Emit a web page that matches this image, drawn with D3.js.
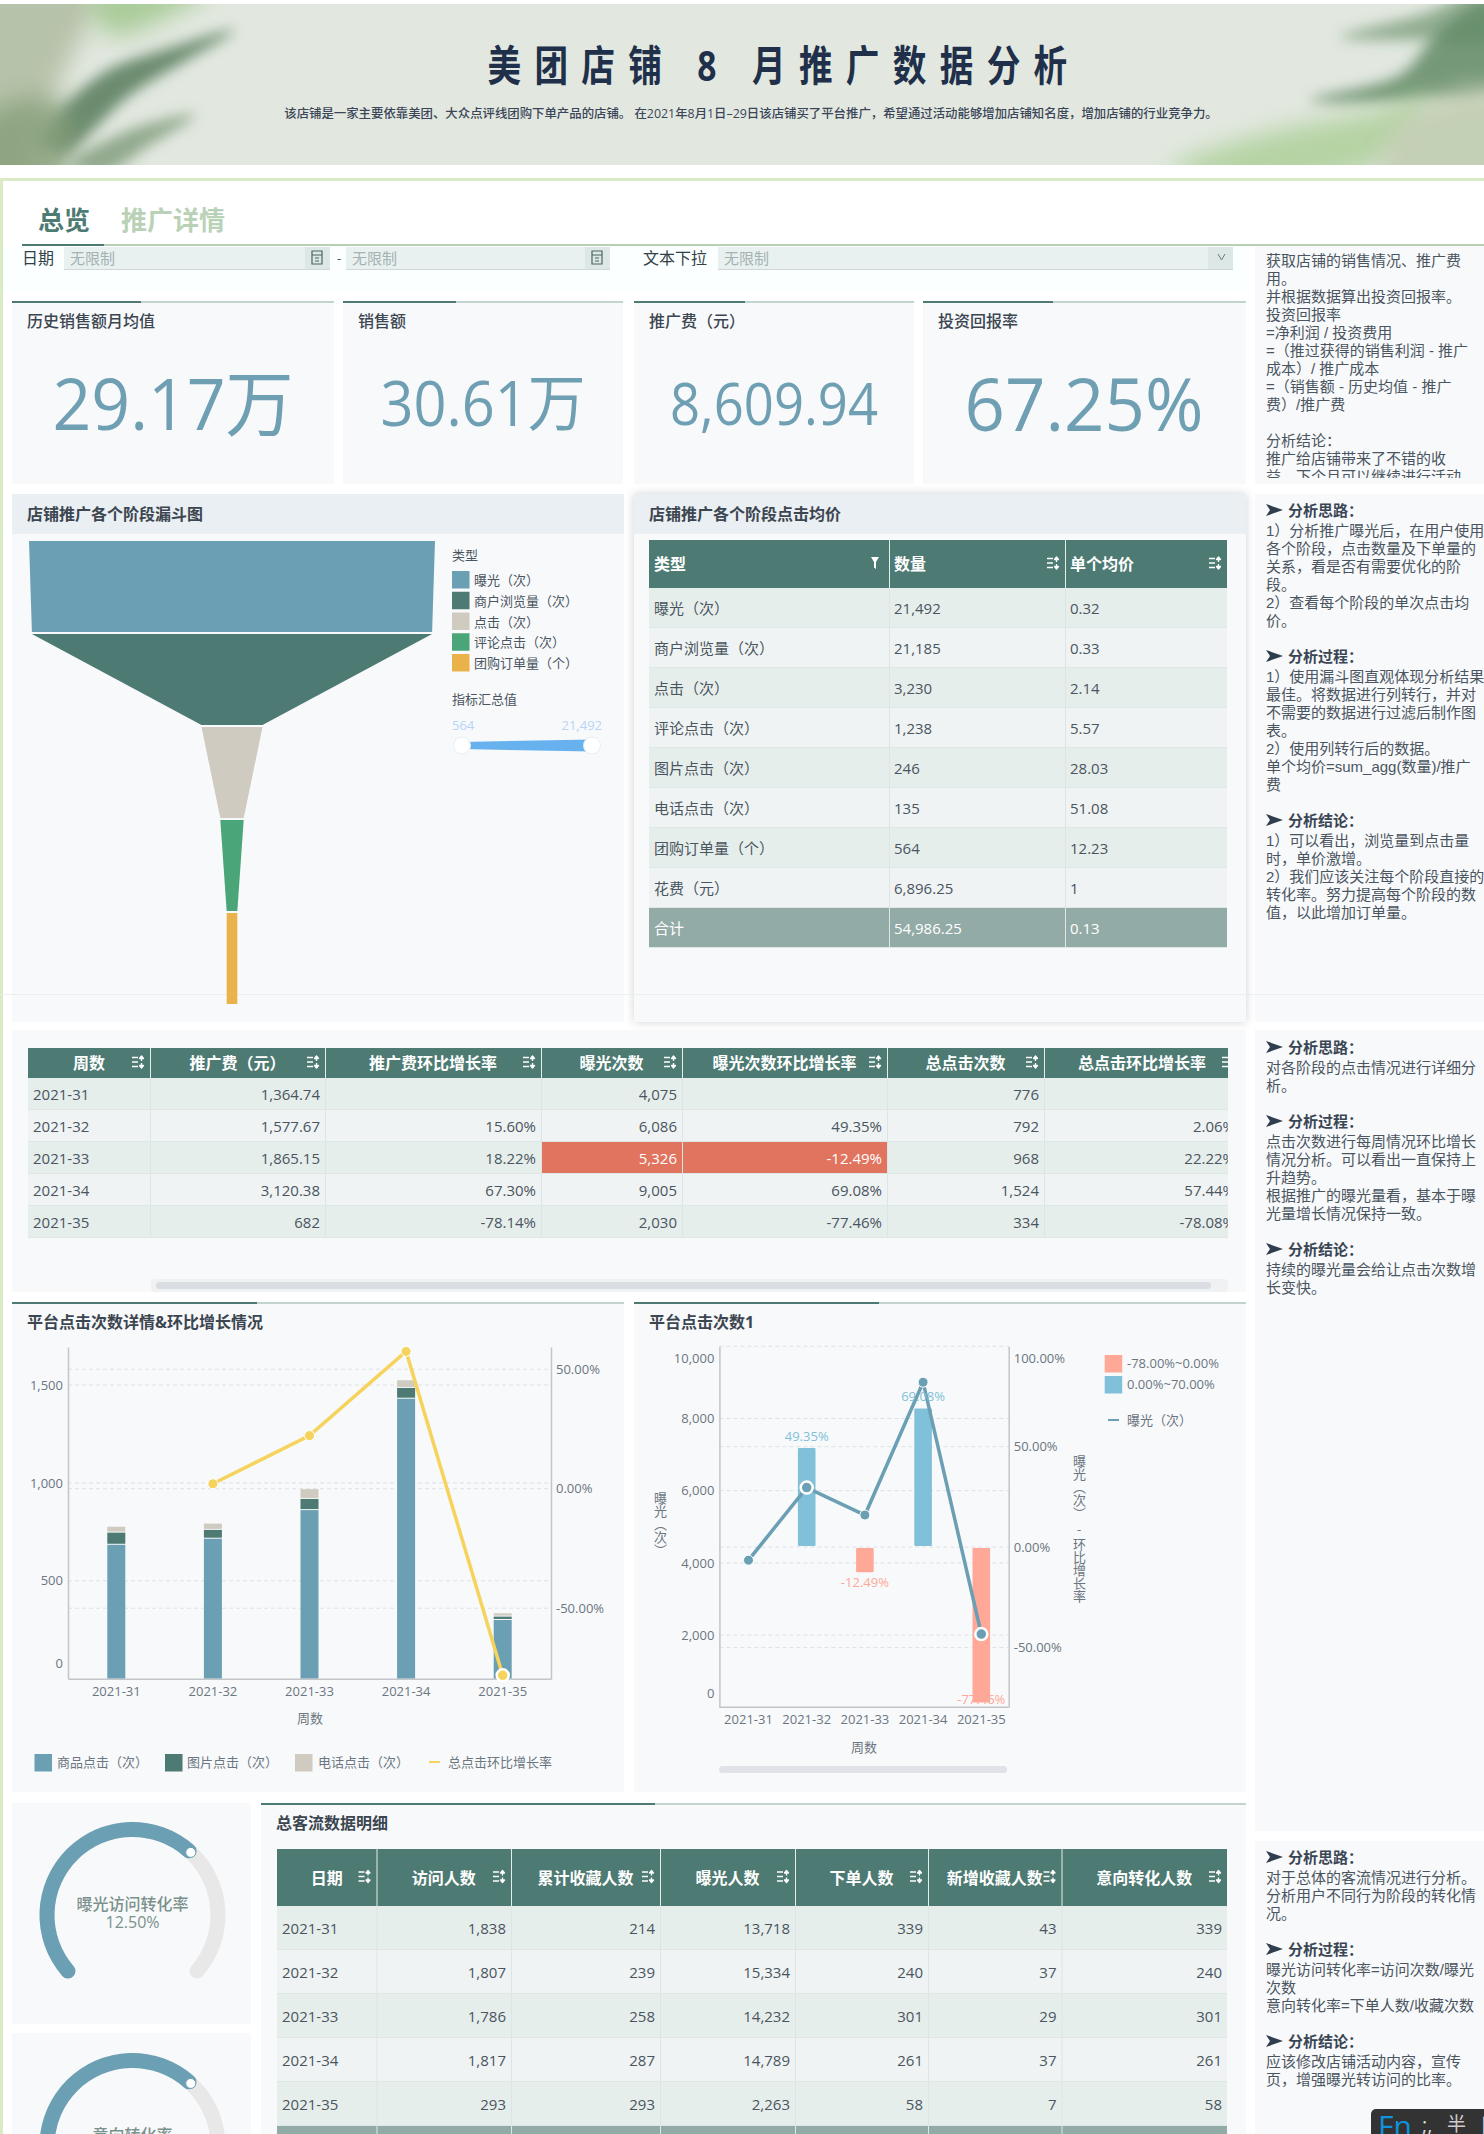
<!DOCTYPE html>
<html>
<head>
<meta charset="utf-8">
<script src="https://cdn.jsdelivr.net/npm/d3@7"></script>
<style>
  html, body { margin: 0; padding: 0; background: #fff; overflow: hidden; }
  svg { display: block; }
  text { font-family: "Open Sans", "Noto Sans CJK SC", sans-serif; }
</style>
</head>
<body>
<script>
// funnel
const funnelTypes = ["曝光（次）", "商户浏览量（次）", "点击（次）", "评论点击（次）", "团购订单量（个）"];
const funnelValues = [21492, 21185, 3230, 1238, 564];
const funnelColors = ["#6b9fb3", "#4d7a72", "#cfcbc0", "#4aa678", "#e9b24a"];

// kpi cards
const kpiNames = ["历史销售额月均值", "销售额", "推广费（元）", "投资回报率"];
const kpiValues = ["29.17万", "30.61万", "8,609.94", "67.25%"];

// stage price table
const priceHeads = ["类型", "数量", "单个均价"];
const priceTypes = ["曝光（次）", "商户浏览量（次）", "点击（次）", "评论点击（次）", "图片点击（次）", "电话点击（次）", "团购订单量（个）", "花费（元）"];
const priceCounts = [21492, 21185, 3230, 1238, 246, 135, 564, 6896.25];
const priceAvg = [0.32, 0.33, 2.14, 5.57, 28.03, 51.08, 12.23, 1];
const priceTotal = ["合计", 54986.25, 0.13];

// weekly table
const weeks = ["2021-31", "2021-32", "2021-33", "2021-34", "2021-35"];
const weekHeads = ["周数", "推广费（元）", "推广费环比增长率", "曝光次数", "曝光次数环比增长率", "总点击次数", "总点击环比增长率"];
const fee = [1364.74, 1577.67, 1865.15, 3120.38, 682];
const feeRate = [null, 15.60, 18.22, 67.30, -78.14];
const exposure = [4075, 6086, 5326, 9005, 2030];
const exposureRate = [null, 49.35, -12.49, 69.08, -77.46];
const clicks = [776, 792, 968, 1524, 334];
const clickRate = [null, 2.06, 22.22, 57.44, -78.08];

// stacked click bars
const clickKeys = ["商品点击（次）", "图片点击（次）", "电话点击（次）"];
const goodsClicks = [684, 715, 861, 1430, 300];
const imageClicks = [62, 45, 57, 55, 17];
const phoneClicks = [30, 32, 50, 39, 17];
const rateName = "总点击环比增长率";

// customer flow table
const flowHeads = ["日期", "访问人数", "累计收藏人数", "曝光人数", "下单人数", "新增收藏人数", "意向转化人数"];
const visitors = [1838, 1807, 1786, 1817, 293];
const favTotal = [214, 239, 258, 287, 293];
const exposed = [13718, 15334, 14232, 14789, 2263];
const orders = [339, 240, 301, 261, 58];
const favNew = [43, 37, 29, 37, 7];
const intent = [339, 240, 301, 261, 58];

// gauges
const gaugeNames = ["曝光访问转化率", "意向转化率"];
const gaugeLabels = ["12.50%", ""];
const gaugeValues = [0.125, 0.125];

// side notes
const notes1 = ["获取店铺的销售情况、推广费", "用。", "并根据数据算出投资回报率。", "投资回报率", "=净利润 / 投资费用", "=（推过获得的销售利润 - 推广", "成本）/ 推广成本", "=（销售额 - 历史均值 - 推广", "费）/推广费", "", "分析结论：", "推广给店铺带来了不错的收", "益，下个月可以继续进行活动"];
const notes2 = [
  ["分析思路：", ["1）分析推广曝光后，在用户使用", "各个阶段，点击数量及下单量的", "关系，看是否有需要优化的阶", "段。", "2）查看每个阶段的单次点击均", "价。"]],
  ["分析过程：", ["1）使用漏斗图直观体现分析结果", "最佳。将数据进行列转行，并对", "不需要的数据进行过滤后制作图", "表。", "2）使用列转行后的数据。", "单个均价=sum_agg(数量)/推广", "费"]],
  ["分析结论：", ["1）可以看出，浏览量到点击量", "时，单价激增。", "2）我们应该关注每个阶段直接的", "转化率。努力提高每个阶段的数", "值，以此增加订单量。"]]
];
const notes3 = [
  ["分析思路：", ["对各阶段的点击情况进行详细分", "析。"]],
  ["分析过程：", ["点击次数进行每周情况环比增长", "情况分析。可以看出一直保持上", "升趋势。", "根据推广的曝光量看，基本于曝", "光量增长情况保持一致。"]],
  ["分析结论：", ["持续的曝光量会给让点击次数增", "长变快。"]]
];
const notes4 = [
  ["分析思路：", ["对于总体的客流情况进行分析。", "分析用户不同行为阶段的转化情", "况。"]],
  ["分析过程：", ["曝光访问转化率=访问次数/曝光", "次数", "意向转化率=下单人数/收藏次数"]],
  ["分析结论：", ["应该修改店铺活动内容，宣传", "页，增强曝光转访问的比率。"]]
];

// plain hyphen for negatives, like the original
d3.formatDefaultLocale({ decimal: ".", thousands: ",", grouping: [3], currency: ["", ""], minus: "-" });

const panelBg = "#f8f9fb", dark = "#4d7a72", lightBar = "#c3d3ce", textCol = "#4a5560", axisCol = "#6b7680";
const blue = "#6b9fb3", yellow = "#f5d35c";
const sansCn = '"Liberation Sans", "Noto Sans CJK SC", sans-serif';

const svg = d3.select("body").append("svg").attr("width", 1484).attr("height", 2134);
const defs = svg.append("defs");
[12, 7].forEach(function (b) {
  defs.append("filter").attr("id", "blur" + b).attr("x", "-30%").attr("y", "-30%").attr("width", "160%").attr("height", "160%")
    .append("feGaussianBlur").attr("stdDeviation", b);
});
const shadow = defs.append("filter").attr("id", "shadow").attr("x", "-5%").attr("y", "-5%").attr("width", "110%").attr("height", "110%");
shadow.append("feDropShadow").attr("dx", 0).attr("dy", 0).attr("stdDeviation", 5).attr("flood-color", "#000").attr("flood-opacity", 0.18);

function clip(id, x, y, w, h) {
  defs.append("clipPath").attr("id", id).append("rect").attr("x", x).attr("y", y).attr("width", w).attr("height", h);
  return "url(#" + id + ")";
}
function rect(g, x, y, w, h, fill) {
  return g.append("rect").attr("x", x).attr("y", y).attr("width", w).attr("height", h).attr("fill", fill);
}
function label(g, x, y, s, size, fill, anchor, weight) {
  return g.append("text").attr("x", x).attr("y", y).attr("dominant-baseline", "central")
    .attr("text-anchor", anchor || "start").attr("font-size", size).attr("font-weight", weight || 400)
    .attr("fill", fill).text(s);
}

// banner
const banner = svg.append("g").attr("clip-path", clip("bannerClip", 0, 4, 1484, 161));
rect(banner, 0, 4, 1484, 161, "#e2e8df");
const leaf = d3.line().curve(d3.curveCatmullRomClosed);
function leafShape(pts, fill, blur, op) {
  banner.append("path").attr("d", leaf(pts)).attr("fill", fill).attr("opacity", op).attr("filter", "url(#blur" + blur + ")");
}
leafShape([[-40, -10], [95, -10], [70, 60], [40, 120], [10, 190], [-40, 190]], "#b2bea4", 12, 0.9);
leafShape([[90, -10], [210, -10], [170, 15], [110, 35]], "#97c282", 12, 0.75);
leafShape([[40, 140], [100, 75], [170, 48], [235, 30], [190, 58], [130, 95], [60, 155]], "#567c5c", 7, 0.85);
leafShape([[70, 165], [130, 130], [195, 115], [150, 145], [100, 175]], "#6f8f6c", 7, 0.7);
leafShape([[-20, 120], [60, 100], [60, 190], [-20, 190]], "#88a07a", 12, 0.85);
leafShape([[1340, 37], [1420, 15], [1490, -10], [1490, 40], [1420, 40]], "#7e9f7f", 7, 0.8);
leafShape([[1310, 100], [1400, 75], [1440, 30], [1495, 0], [1495, 90], [1420, 100]], "#648b67", 7, 0.85);
leafShape([[1170, 170], [1260, 135], [1380, 110], [1430, 95], [1400, 150], [1300, 185]], "#a6cc90", 12, 0.75);
leafShape([[1400, 120], [1500, 90], [1500, 190], [1380, 190]], "#c3cfb3", 12, 0.95);
banner.append("text").attr("transform", "translate(784,64) scale(0.8,1)")
  .attr("text-anchor", "middle").attr("dominant-baseline", "central")
  .attr("font-size", 42).attr("font-weight", 700).attr("fill", "#21304a").attr("letter-spacing", 16.7)
  .text("美团店铺 8 月推广数据分析");
label(banner, 751, 113, "该店铺是一家主要依靠美团、大众点评线团购下单产品的店铺。 在2021年8月1日–29日该店铺买了平台推广，希望通过活动能够增加店铺知名度，增加店铺的行业竞争力。", 12.4, "#3a4558", "middle", 500);

// page frame, tabs, filters
rect(svg, 0, 178, 1484, 3, "#d8ebc4");
rect(svg, 0, 178, 3, 1956, "#d8ebc4");
label(svg, 38, 220, "总览", 26, dark, "start", 700);
label(svg, 121, 220, "推广详情", 26, "#b9d2b7", "start", 700);
rect(svg, 22, 244, 1462, 2, "#b6cfb5");
rect(svg, 22, 244, 82, 2, dark);
rect(svg, 4, 246, 1242, 46, "#fbffff");

label(svg, 22, 258, "日期", 16, "#333f46");
label(svg, 643, 258, "文本下拉", 16, "#333f46");
label(svg, 337, 258, "-", 13, textCol);
[[64, 266], [346, 264], [718, 515]].forEach(function (f, i) {
  rect(svg, f[0], 247, f[1], 23, "#e9f1f0");
  rect(svg, f[0], 269, f[1], 1, "#cdd8d6");
  rect(svg, f[0] + f[1] - 25, 247, 25, 22, "#dde8e6");
  label(svg, f[0] + 6, 258, "无限制", 15, "#a3b2b2");
  if (i < 2) {
    svg.append("path").attr("d", "M" + (f[0] + f[1] - 18) + " 251h10v13h-10zM" + (f[0] + f[1] - 18) + " 255h10M" + (f[0] + f[1] - 15) + " 258h4M" + (f[0] + f[1] - 15) + " 261h4")
      .attr("fill", "none").attr("stroke", "#4b6460").attr("stroke-width", 1.2);
  } else {
    svg.append("path").attr("d", "M" + (f[0] + f[1] - 15) + " 254l3.5 6 3.5-6").attr("fill", "none").attr("stroke", "#6b7d7a");
  }
});

// kpi cards: x, width, dark bar, font size, centre, text width
const kpiBoxes = [[12, 322, 129, 72, 173, 241], [343, 280, 113, 62, 483, 205], [634, 280, 111, 58, 774, 208], [923, 323, 130, 74, 1084, 239]];
kpiNames.forEach(function (name, i) {
  const b = kpiBoxes[i];
  rect(svg, b[0], 303, b[1], 181, panelBg);
  rect(svg, b[0], 301, b[1], 2, lightBar);
  rect(svg, b[0], 301, b[2], 2, dark);
  label(svg, b[0] + 15, 321, name, 16, "#3c4650", "start", 500);
  label(svg, b[4], 402, kpiValues[i], b[3], "#6f9fb2", "middle")
    .attr("textLength", b[5]).attr("lengthAdjust", "spacingAndGlyphs");
});

// side panels
[[246, 238], [494, 528], [1030, 801], [1841, 293]].forEach(function (p) {
  rect(svg, 1255, p[0], 229, p[1], panelBg);
});
const noteClip = svg.append("g").attr("clip-path", clip("noteClip", 1255, 246, 229, 232));
notes1.forEach(function (s, i) {
  noteClip.append("text").attr("x", 1266).attr("y", 260 + i * 18).attr("dominant-baseline", "central")
    .attr("font-size", 15).attr("fill", textCol).style("font-family", sansCn).text(s);
});
function drawNotes(groups, y0) {
  let y = y0;
  groups.forEach(function (g) {
    svg.append("path").attr("transform", "translate(1266," + y + ")").attr("d", "M0 -6L17 0L0 6L4 0Z").attr("fill", "#2f3d4e");
    svg.append("text").attr("x", 1288).attr("y", y).attr("dominant-baseline", "central").attr("font-size", 15)
      .attr("font-weight", 700).attr("fill", "#3a4654").style("font-family", sansCn).text(g[0]);
    y += 20;
    g[1].forEach(function (s, i) {
      svg.append("text").attr("x", 1266).attr("y", y + i * 18).attr("dominant-baseline", "central").attr("font-size", 15)
        .attr("fill", textCol).style("font-family", sansCn).text(s);
    });
    y += (g[1].length - 1) * 18 + 36;
  });
}
drawNotes(notes2, 510);
drawNotes(notes3, 1047);
drawNotes(notes4, 1857);

// funnel panel
rect(svg, 12, 494, 612, 528, panelBg);
rect(svg, 12, 494, 612, 40, "#eaeff3");
label(svg, 27, 514, "店铺推广各个阶段漏斗图", 16, "#3c4650", "start", 700);

const funnelY = d3.scaleBand().domain(funnelTypes).range([541, 1004]).paddingInner(0.022);
const funnelW = d3.scaleLinear().domain([0, funnelValues[0]]).range([0, 406]);
const funnelCx = 232;
const funnelLine = d3.line();
const funnelMarks = svg.append("g");
funnelMarks.selectAll("path").data(funnelTypes).join("path")
  .attr("fill", function (d, i) { return funnelColors[i]; })
  .attr("d", function (d, i) {
    const top = funnelW(funnelValues[i]) / 2;
    const next = funnelW(funnelValues[Math.min(i + 1, funnelValues.length - 1)]) / 2;
    const y0 = funnelY(d), y1 = y0 + funnelY.bandwidth();
    return funnelLine([[funnelCx - top, y0], [funnelCx + top, y0], [funnelCx + next, y1], [funnelCx - next, y1]]) + "Z";
  });

label(svg, 452, 555, "类型", 13, textCol);
const funnelLegendY = d3.scalePoint().domain(funnelTypes).range([580, 663]);
funnelTypes.forEach(function (t, i) {
  rect(svg, 452, funnelLegendY(t) - 9, 17.5, 17.5, funnelColors[i]);
  label(svg, 474, funnelLegendY(t), t, 13, textCol);
});
label(svg, 452, 699, "指标汇总值", 13, textCol);
label(svg, 452, 725, "564", 13, "#b7d4f7");
label(svg, 602, 725, "21,492", 13, "#b7d4f7", "end");
const sliderX = d3.scaleLinear().domain([564, 21492]).range([462, 592]);
const sliderH = d3.scaleLinear().domain([564, 21492]).range([3.5, 6]);
svg.append("path").attr("fill", "#66b1ee")
  .attr("d", d3.area().x(function (d) { return sliderX(d); })
    .y0(function (d) { return 745.5 + sliderH(d); }).y1(function (d) { return 745.5 - sliderH(d); })([564, 21492]));
svg.selectAll("circle.handle").data([564, 21492]).join("circle").attr("class", "handle")
  .attr("cx", function (d) { return sliderX(d); }).attr("cy", 745.5).attr("r", 8.5)
  .attr("fill", "#fff").attr("stroke", "#e4eef7").attr("stroke-width", 1);

// tables
function sortIcon(g, cx, cy) {
  g.append("path").attr("transform", "translate(" + (cx - 6) + "," + (cy - 6) + ")")
    .attr("d", "M0 1.5h6M0 6h6M0 10.5h6M9.5 0v5M9.5 7v5M7.5 2.5l2-2.5 2 2.5zM7.5 9.5l2 2.5 2-2.5z")
    .attr("fill", "#fff").attr("stroke", "#fff").attr("stroke-width", 1.3).attr("stroke-linejoin", "round");
}
function drawTable(o) {
  const g = svg.append("g");
  if (o.clip) g.attr("clip-path", o.clip);
  const left = o.edges[0], right = o.edges[o.edges.length - 1];
  const nRows = o.rows.length;
  const rowY = d3.scaleLinear().domain([0, nRows]).range([o.headY + o.headH, o.headY + o.headH + nRows * o.rowH]);
  rect(g, left, o.headY, right - left, o.headH, dark);
  o.heads.forEach(function (h, c) {
    const x0 = o.edges[c], x1 = o.edges[c + 1], cy = o.headY + o.headH / 2;
    if (o.headAlign === "left") label(g, x0 + 5, cy, h, 16, "#fff", "start", 700);
    else label(g, (x0 + x1) / 2, cy, h, 16, "#fff", "middle", 700);
    rect(g, x1 - 19, cy - 9, 18, 18, dark);
    if (o.filterFirst && c === 0) {
      g.append("path").attr("d", "M" + (x1 - 18) + " " + (cy - 7) + "h8l-3 5v7l-2-1.5v-5.5z").attr("fill", "#fff");
    } else sortIcon(g, x1 - 12, cy - 1);
    if (c > 0) rect(g, x0, o.headY, 1, o.headH, "#e6eeec");
  });
  o.rows.forEach(function (row, r) {
    const y = rowY(r);
    const isTotal = row.total;
    rect(g, left, y, right - left, o.rowH, isTotal ? "#93aba6" : (r % 2 ? "#eff3f3" : "#e6eeec"));
    rect(g, left, y + o.rowH - 1, right - left, 1, "#dfe7e6");
    row.cells.forEach(function (s, c) {
      const x0 = o.edges[c], x1 = o.edges[c + 1];
      const hot = o.hot && o.hot(r, c);
      if (hot) rect(g, x0, y, x1 - x0, o.rowH - 1, "#e0745e");
      if (c > 0) rect(g, x0, y, 1, o.rowH, isTotal ? "#dfe7e6" : "#dde5e4");
      const fill = (isTotal || hot) ? "#fff" : textCol;
      if (o.cellAlign === "left" || c === 0) label(g, x0 + 5, y + o.rowH / 2, s, 15, fill);
      else label(g, x1 - 5, y + o.rowH / 2, s, 15, fill, "end");
    });
  });
  return g;
}
const num = d3.format(",");
const pct = function (v) { return v === null ? "" : d3.format(".2f")(v) + "%"; };

// price panel
rect(svg, 634, 494, 612, 528, panelBg).attr("filter", "url(#shadow)");
rect(svg, 634, 494, 612, 40, "#eaeff3");
label(svg, 649, 514, "店铺推广各个阶段点击均价", 16, "#3c4650", "start", 700);
rect(svg, 0, 994, 1484, 1, "#e9ecee").attr("opacity", 0.8);
funnelMarks.raise();
drawTable({
  edges: [649, 889, 1065, 1227], headY: 540, headH: 48, rowH: 40, heads: priceHeads,
  headAlign: "left", cellAlign: "left", filterFirst: true,
  rows: priceTypes.map(function (t, i) {
    return { cells: [t, num(priceCounts[i]), String(priceAvg[i])] };
  }).concat([{ total: true, cells: [priceTotal[0], num(priceTotal[1]), String(priceTotal[2])] }])
});

// weekly table
rect(svg, 12, 1030, 1234, 262, panelBg);
drawTable({
  edges: [28, 150, 325, 541, 682, 887, 1044, 1240], headY: 1048, headH: 30, rowH: 32, heads: weekHeads,
  clip: clip("weekClip", 28, 1040, 1200, 210),
  hot: function (r, c) { return r === 2 && (c === 3 || c === 4); },
  rows: weeks.map(function (w, i) {
    return { cells: [w, num(fee[i]), pct(feeRate[i]), num(exposure[i]), pct(exposureRate[i]), num(clicks[i]), pct(clickRate[i])] };
  })
});
rect(svg, 151, 1279, 1077, 13, "#eff1f3").attr("rx", 4);
rect(svg, 156, 1282, 1055, 7, "#dadde2").attr("rx", 3.5);

// shared chart pieces
function panelHead(x, w, darkW, title, y) {
  rect(svg, x, y + 2, w, 488, panelBg);
  rect(svg, x, y, w, 2, lightBar);
  rect(svg, x, y, darkW, 2, dark);
  label(svg, x + 15, y + 20, title, 16, "#3c4650", "start", 700);
}
function gridLines(scale, ticks, x0, x1) {
  svg.append("g").selectAll("line").data(ticks).join("line")
    .attr("x1", x0).attr("x2", x1)
    .attr("y1", function (d) { return scale(d); }).attr("y2", function (d) { return scale(d); })
    .attr("stroke", "#dfe1e4").attr("stroke-dasharray", "4 3");
}
function styleAxis(g, nudge) {
  g.selectAll(".domain").attr("stroke", "#c2c6ca").attr("stroke-width", 1.5);
  g.selectAll(".tick line").remove();
  g.selectAll("text").attr("fill", axisCol).attr("font-size", 13);
  if (nudge) g.selectAll(".tick text").attr("dy", function (d) { return (0.32 * 13 + (nudge[d] || 0)) + "px"; });
}

// clicks detail chart
panelHead(12, 612, 245, "平台点击次数详情&环比增长情况", 1302);
const x1 = d3.scaleBand().domain(weeks).range([68, 551]);
const yClicks = d3.scaleLinear().domain([0, 1694]).range([1678.7, 1347]);
const yRate = d3.scaleLinear().domain([-79.5, 59.3]).range([1678.7, 1347]);
gridLines(yClicks, [500, 1000, 1500], 68, 551);
gridLines(yRate, [-50, 0, 50], 68, 551);
const stackRows = weeks.map(function (w, i) {
  const row = { week: w };
  row[clickKeys[0]] = goodsClicks[i];
  row[clickKeys[1]] = imageClicks[i];
  row[clickKeys[2]] = phoneClicks[i];
  return row;
});
const stacks = d3.stack().keys(clickKeys)(stackRows);
const stackColors = d3.scaleOrdinal().domain(clickKeys).range(["#6b9fb3", "#4d7a72", "#cfcbc0"]);
svg.append("g").selectAll("g").data(stacks).join("g")
  .attr("fill", function (d) { return stackColors(d.key); })
  .selectAll("rect").data(function (d) { return d; }).join("rect")
  .attr("x", function (d) { return x1(d.data.week) + x1.bandwidth() / 2 - 9; })
  .attr("width", 18)
  .attr("y", function (d) { return yClicks(d[1]); })
  .attr("height", function (d) { return yClicks(d[0]) - yClicks(d[1]) - (d[0] > 0 ? 1 : 0); });

const axL1 = svg.append("g").attr("transform", "translate(68,0)")
  .call(d3.axisLeft(yClicks).tickValues([0, 500, 1000, 1500]).tickFormat(d3.format(",")).tickSize(0).tickPadding(5));
styleAxis(axL1, { 0: -15 });
const axR1 = svg.append("g").attr("transform", "translate(551,0)")
  .call(d3.axisRight(yRate).tickValues([-50, 0, 50]).tickFormat(function (d) { return d3.format(".2f")(d) + "%"; }).tickSize(0).tickPadding(5));
styleAxis(axR1);
const axB1 = svg.append("g").attr("transform", "translate(0,1678.7)").call(d3.axisBottom(x1).tickSize(0).tickPadding(8));
styleAxis(axB1);
label(svg, 310, 1718, "周数", 13, axisCol, "middle");

const rateLine = d3.line().defined(function (d) { return d.v !== null; })
  .x(function (d) { return x1(d.w) + x1.bandwidth() / 2; }).y(function (d) { return yRate(d.v); });
const ratePts = weeks.map(function (w, i) { return { w: w, v: clickRate[i] }; });
svg.append("path").attr("d", rateLine(ratePts)).attr("fill", "none").attr("stroke", yellow).attr("stroke-width", 3.5);
svg.append("g").selectAll("circle").data(ratePts.filter(function (d) { return d.v !== null; })).join("circle")
  .attr("cx", function (d) { return x1(d.w) + x1.bandwidth() / 2; }).attr("cy", function (d) { return yRate(d.v); })
  .attr("r", function (d, i) { return i === 3 ? 6 : 5; }).attr("fill", yellow).attr("stroke", "#fff")
  .attr("stroke-width", function (d, i) { return i === 3 ? 2.5 : 1; });

const legend1X = [[34.5, 57], [165, 187], [295, 318]];
clickKeys.forEach(function (k, i) {
  rect(svg, legend1X[i][0], 1754, 17.5, 17.5, stackColors(k));
  label(svg, legend1X[i][1], 1762, k, 13, axisCol);
});
rect(svg, 429, 1761, 11, 2, yellow);
label(svg, 448, 1762, rateName, 13, axisCol);

// exposure chart
panelHead(634, 612, 245, "平台点击次数1", 1302);
const x2 = d3.scaleBand().domain(weeks).range([719.4, 1010.4]);
const yExpo = d3.scaleLinear().domain([0, 10000]).range([1707.3, 1346.3]);
const yRate2 = d3.scaleLinear().domain([-79.8, 100]).range([1707.3, 1346.3]);
gridLines(yExpo, [2000, 4000, 6000, 8000, 10000], 719.4, 1008.7);
gridLines(yRate2, [-50, 0, 50], 719.4, 1008.7);
const rateColor = d3.scaleThreshold().domain([0]).range(["#ffa898", "#80c0d8"]);
const barData = weeks.map(function (w, i) { return { w: w, v: exposureRate[i] }; }).filter(function (d) { return d.v !== null; });
const cx2 = function (w) { return x2(w) + x2.bandwidth() / 2; };
svg.append("g").selectAll("rect").data(barData).join("rect")
  .attr("x", function (d) { return cx2(d.w) - 8.8; }).attr("width", 17.6).attr("rx", 1)
  .attr("y", function (d) { return d.v > 0 ? yRate2(d.v) : yRate2(0) + 1; })
  .attr("height", function (d) { return Math.abs(yRate2(d.v) - yRate2(0)) - 1; })
  .attr("fill", function (d) { return rateColor(d.v); });

const axL2 = svg.append("g").attr("transform", "translate(719.4,0)")
  .call(d3.axisLeft(yExpo).tickValues([0, 2000, 4000, 6000, 8000, 10000]).tickFormat(d3.format(",")).tickSize(0).tickPadding(5));
styleAxis(axL2, { 0: -14, 10000: 12 });
const axR2 = svg.append("g").attr("transform", "translate(1008.7,0)")
  .call(d3.axisRight(yRate2).tickValues([-50, 0, 50, 100]).tickFormat(function (d) { return d3.format(".2f")(d) + "%"; }).tickSize(0).tickPadding(5));
styleAxis(axR2, { 100: 12 });
const axB2 = svg.append("g").attr("transform", "translate(0,1707.3)").call(d3.axisBottom(x2).tickSize(0).tickPadding(7));
axB2.select(".domain").attr("d", "M719.4 0H1008.7");
styleAxis(axB2);
label(svg, 864, 1747, "周数", 13, axisCol, "middle");

const expoLine = d3.line().x(function (d) { return cx2(d.w); }).y(function (d) { return yExpo(d.v); });
const expoPts = weeks.map(function (w, i) { return { w: w, v: exposure[i] }; });
svg.append("path").attr("d", expoLine(expoPts)).attr("fill", "none").attr("stroke", blue).attr("stroke-width", 3.5);
svg.append("g").selectAll("circle").data(expoPts).join("circle")
  .attr("cx", function (d) { return cx2(d.w); }).attr("cy", function (d) { return yExpo(d.v); })
  .attr("r", function (d, i) { return (i === 1 || i === 4) ? 6 : 5; }).attr("fill", blue).attr("stroke", "#fff")
  .attr("stroke-width", function (d, i) { return (i === 1 || i === 4) ? 2.5 : 1; });
svg.append("g").selectAll("text").data(barData).join("text")
  .attr("x", function (d) { return cx2(d.w); })
  .attr("y", function (d) { return d.v > 0 ? yRate2(d.v) - 12 : Math.min(yRate2(d.v) + 10, 1699); })
  .attr("text-anchor", "middle").attr("dominant-baseline", "central").attr("font-size", 13).attr("font-weight", 500)
  .attr("fill", function (d) { return rateColor(d.v); }).text(function (d) { return pct(d.v); });

rect(svg, 1104.7, 1355, 17.5, 17.5, rateColor(-1));
rect(svg, 1104.7, 1376, 17.5, 17.5, rateColor(1));
label(svg, 1127, 1363, "-78.00%~0.00%", 13, axisCol);
label(svg, 1127, 1384, "0.00%~70.00%", 13, axisCol);
rect(svg, 1108, 1419, 11, 2, blue);
label(svg, 1127, 1420, funnelTypes[0], 13, axisCol);
function vertical(x, y, s) {
  svg.append("text").attr("x", x).attr("y", y).attr("font-size", 13).attr("fill", axisCol)
    .style("writing-mode", "vertical-rl").style("text-orientation", "upright").text(s);
}
vertical(660, 1492, funnelTypes[0]);
vertical(1079, 1455, funnelTypes[0] + "-环比增长率");
rect(svg, 719, 1766, 288, 7, "#dfe2e6").attr("rx", 3.5);

// gauges
const gaugeAngle = d3.scaleLinear().domain([0, 0.19]).range([-136 * Math.PI / 180, 136 * Math.PI / 180]);
const gaugeArc = d3.arc().innerRadius(78).outerRadius(93).cornerRadius(7.5);
[[1803, 221, 1915], [2033, 101, 2146]].forEach(function (c, i) {
  rect(svg, 12, c[0], 239, c[1], panelBg);
  const g = svg.append("g").attr("transform", "translate(132.5," + c[2] + ")");
  g.append("path").attr("fill", "#e8e8e8").attr("d", gaugeArc({ startAngle: gaugeAngle(0), endAngle: gaugeAngle(0.19) }));
  g.append("path").attr("fill", blue).attr("d", gaugeArc({ startAngle: gaugeAngle(0), endAngle: gaugeAngle(gaugeValues[i]) + 0.06 }));
  const a = gaugeAngle(gaugeValues[i]);
  g.append("circle").attr("cx", 85.5 * Math.sin(a)).attr("cy", -85.5 * Math.cos(a)).attr("r", 5)
    .attr("fill", "#fff").attr("stroke", blue);
  label(g, 0, -11, gaugeNames[i], 16, "#7a918c", "middle", 500);
  label(g, 0, 7, gaugeLabels[i], 16, "#7a918c", "middle", 500);
});

// flow table
rect(svg, 261, 1805, 985, 329, panelBg);
rect(svg, 261, 1803, 985, 2, lightBar);
rect(svg, 261, 1803, 394, 2, dark);
label(svg, 276, 1823, "总客流数据明细", 16, "#3c4650", "start", 700);
drawTable({
  edges: [277, 376.5, 511, 660, 795, 928, 1061.5, 1227], headY: 1849, headH: 57, rowH: 44, heads: flowHeads,
  rows: weeks.map(function (w, i) {
    return { cells: [w, num(visitors[i]), num(favTotal[i]), num(exposed[i]), num(orders[i]), num(favNew[i]), num(intent[i])] };
  }).concat([{ total: true, cells: ["", "", "", "", "", "", ""] }])
});

// input method widget at the bottom corner
svg.append("rect").attr("x", 1371).attr("y", 2109).attr("width", 120).attr("height", 40).attr("rx", 5).attr("fill", "#333");
label(svg, 1378, 2125, "Fn", 30, "#0c93dc");
label(svg, 1422, 2124, ";,", 20, "#ddd");
label(svg, 1447, 2124, "半", 19, "#ccc");
label(svg, 1476, 2124, "❘", 19, "#ccc");
</script>
</body>
</html>
